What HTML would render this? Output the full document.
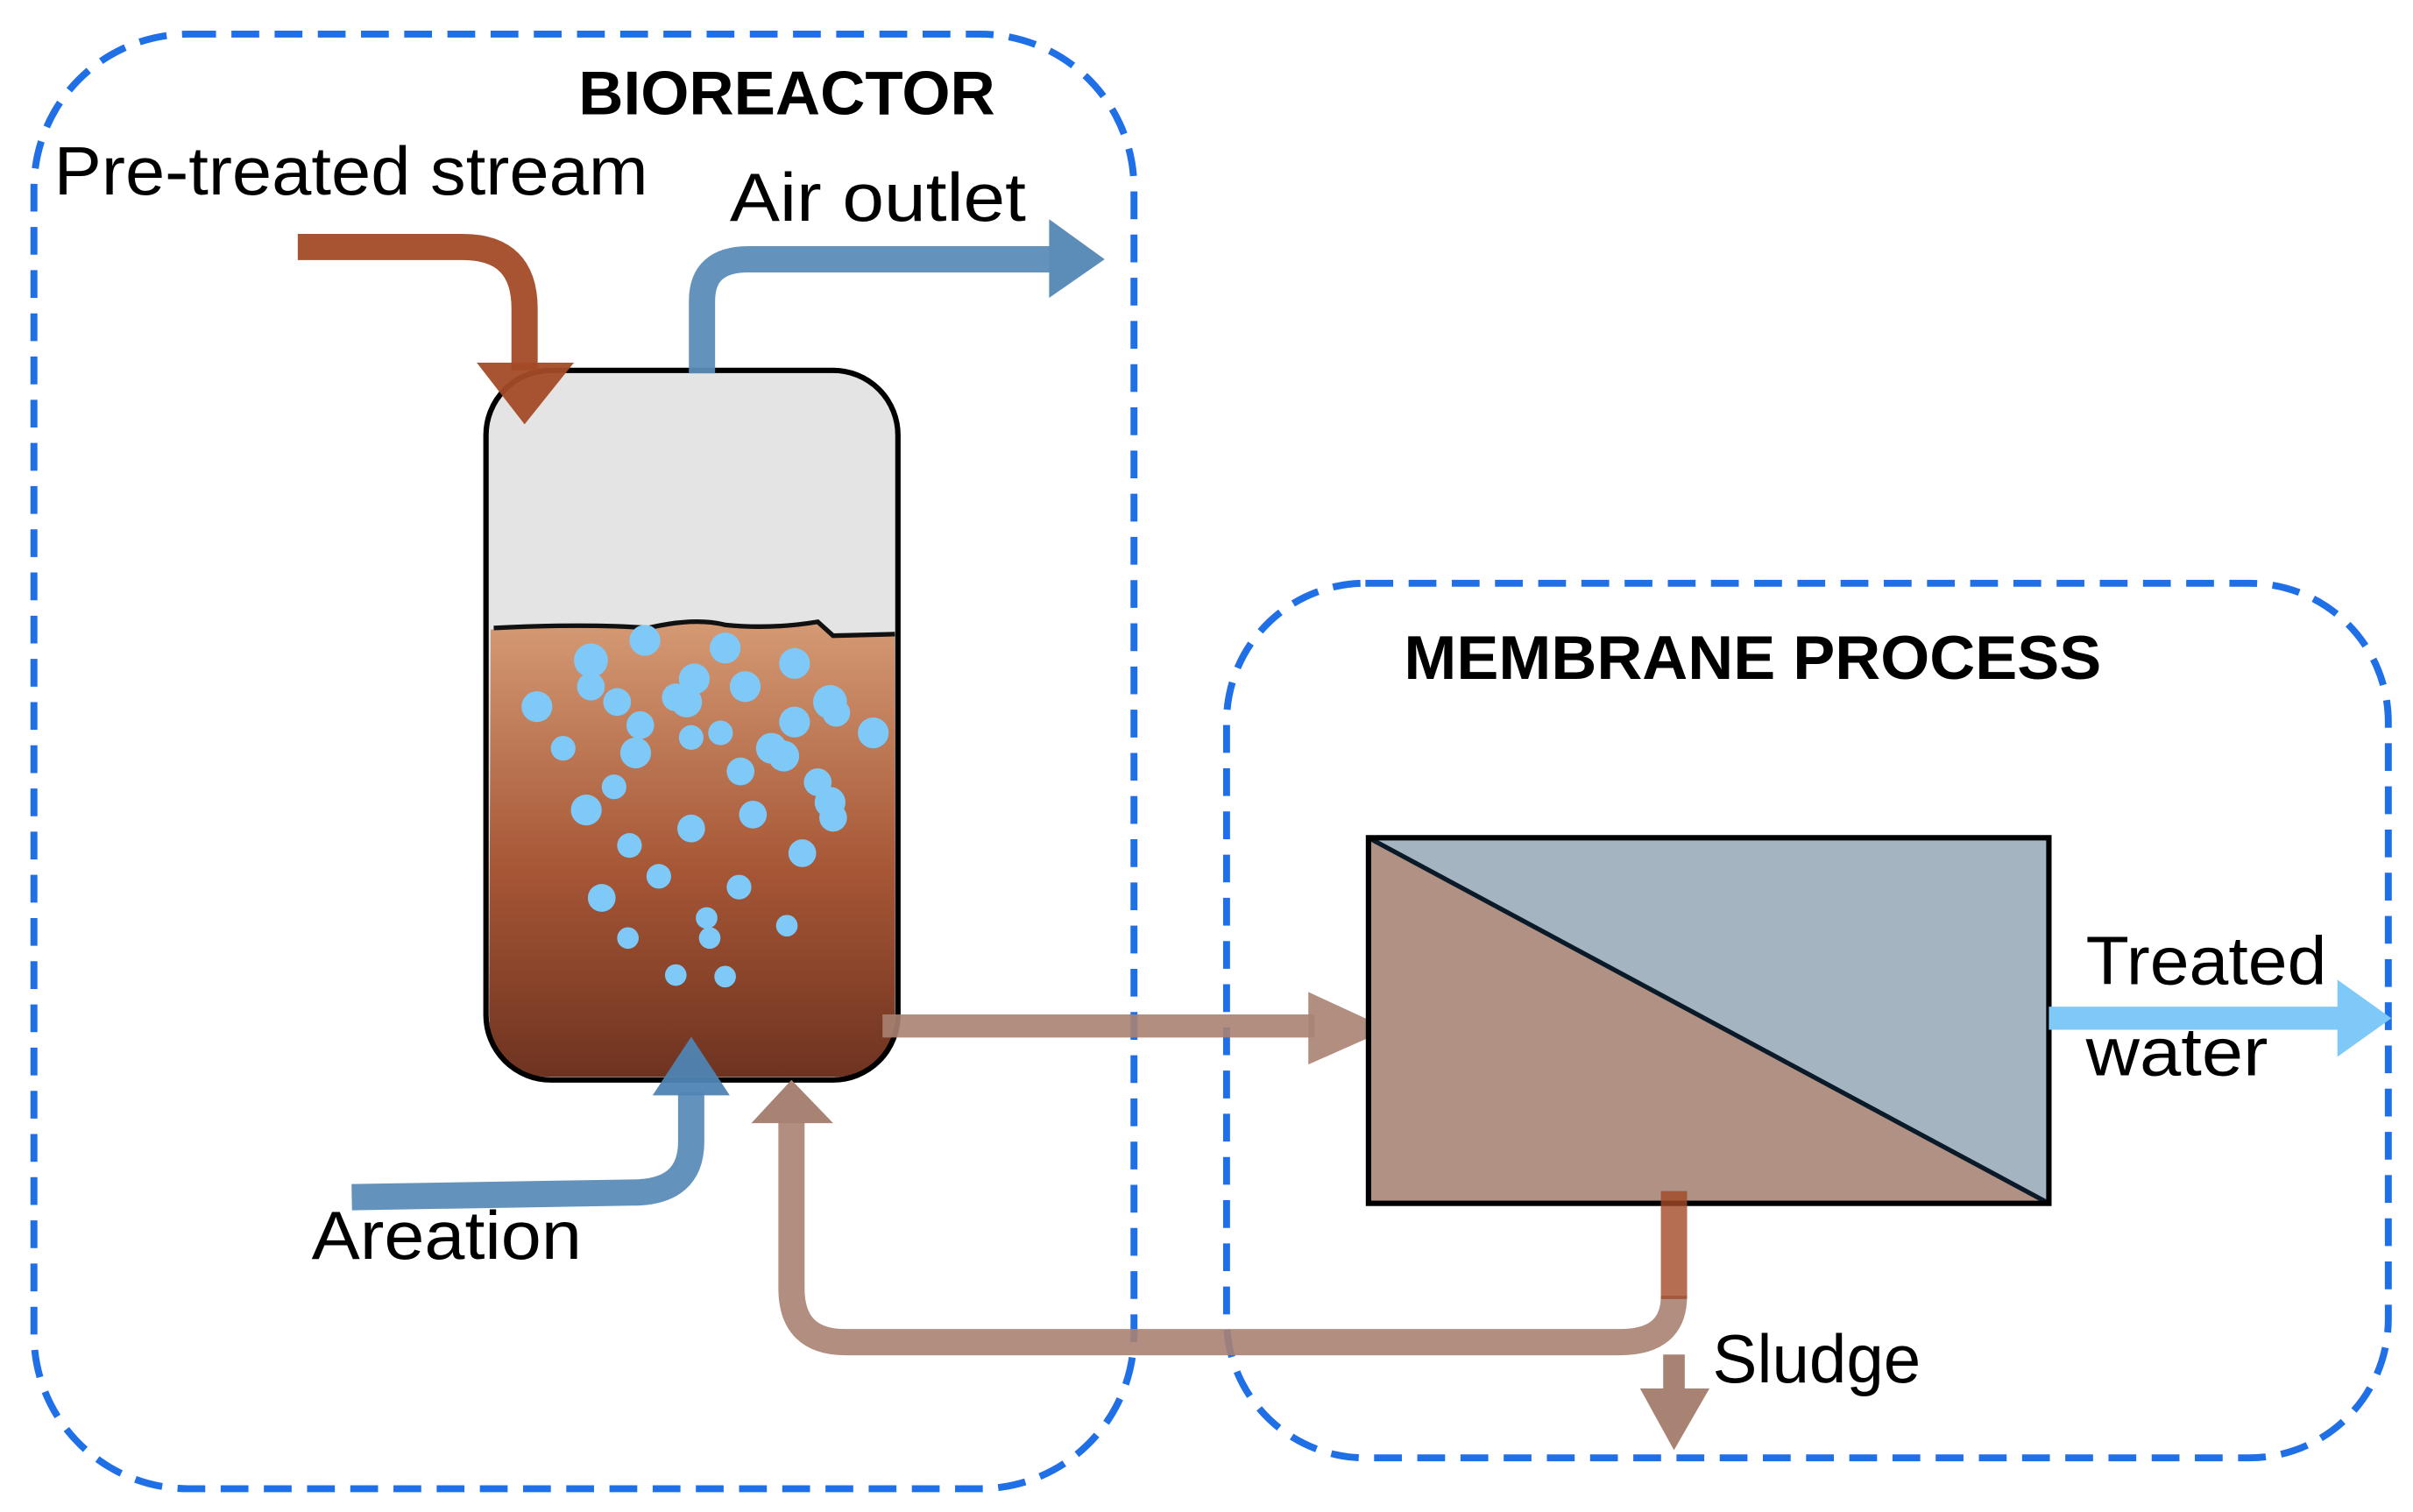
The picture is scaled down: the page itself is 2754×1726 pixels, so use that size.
<!DOCTYPE html>
<html><head><meta charset="utf-8"><style>html,body{margin:0;padding:0;background:#fff}svg{display:block}</style></head>
<body>
<svg width="2754" height="1726" viewBox="0 0 1564 980" xmlns="http://www.w3.org/2000/svg" font-family="'Liberation Sans', sans-serif">
<defs>
<linearGradient id="liq" x1="0" y1="0" x2="0" y2="1">
<stop offset="0" stop-color="#d49a74"/><stop offset="0.55" stop-color="#a65635"/><stop offset="1" stop-color="#6e3320"/>
</linearGradient>
</defs>
<rect width="1564" height="980" fill="#fff"/>
<rect x="22" y="22" width="713" height="943" rx="100" fill="none" stroke="#1f6fe6" stroke-width="4.5" stroke-dasharray="18 10"/>
<rect x="795" y="378" width="753" height="567" rx="90" fill="none" stroke="#1f6fe6" stroke-width="4.5" stroke-dasharray="18 10"/>
<rect x="315" y="240" width="267" height="460" rx="42" fill="#e4e4e4"/>
<path d="M318,408 Q380,404 420,407 Q450,400 470,405 Q500,408 530,403 L540,412 L580,411 L580,658 Q580,698 540,698 L357,698 Q317,698 317,658 Z" fill="url(#liq)"/>
<path d="M320,407 Q380,404 420,407 Q450,400 470,405 Q500,408 530,403 L540,412 L580,411" fill="none" stroke="#111" stroke-width="3"/>
<g fill="#7ec9f7">
<circle cx="348" cy="458" r="10"/><circle cx="383" cy="428" r="11"/><circle cx="383" cy="445" r="9"/><circle cx="400" cy="455" r="9"/><circle cx="418" cy="415" r="10"/><circle cx="450" cy="440" r="10"/><circle cx="445" cy="455" r="10"/><circle cx="438" cy="452" r="9"/><circle cx="470" cy="420" r="10"/><circle cx="483" cy="445" r="10"/><circle cx="515" cy="430" r="10"/><circle cx="538" cy="455" r="11"/><circle cx="542" cy="462" r="9"/><circle cx="566" cy="475" r="10"/><circle cx="365" cy="485" r="8"/><circle cx="415" cy="470" r="9"/><circle cx="412" cy="488" r="10"/><circle cx="448" cy="478" r="8"/><circle cx="467" cy="475" r="8"/><circle cx="500" cy="485" r="10"/><circle cx="508" cy="490" r="10"/><circle cx="515" cy="468" r="10"/><circle cx="480" cy="500" r="9"/><circle cx="530" cy="507" r="9"/><circle cx="538" cy="520" r="10"/><circle cx="540" cy="530" r="9"/><circle cx="398" cy="510" r="8"/><circle cx="380" cy="525" r="10"/><circle cx="448" cy="537" r="9"/><circle cx="488" cy="528" r="9"/><circle cx="408" cy="548" r="8"/><circle cx="520" cy="553" r="9"/><circle cx="427" cy="568" r="8"/><circle cx="479" cy="575" r="8"/><circle cx="390" cy="582" r="9"/><circle cx="458" cy="595" r="7"/><circle cx="460" cy="608" r="7"/><circle cx="510" cy="600" r="7"/><circle cx="407" cy="608" r="7"/><circle cx="438" cy="632" r="7"/><circle cx="470" cy="633" r="7"/>
</g>
<rect x="315" y="240" width="267" height="460" rx="42" fill="none" stroke="#000" stroke-width="3.5"/>
<path d="M193,160 L300,160 Q340,160 340,200 L340,240" fill="none" stroke="#a34a27" stroke-width="17" stroke-opacity="0.95"/>
<polygon points="309,235 372,235 340,275" fill="#a34a27" fill-opacity="0.95"/>
<path d="M455,242 L455,195 Q455,168 485,168 L682,168" fill="none" stroke="#5b8db8" stroke-width="17" stroke-opacity="0.95"/>
<polygon points="680,142 716,168 680,193" fill="#5b8db8"/>
<path d="M228,776 L410,773 Q448,773 448,740 L448,708" fill="none" stroke="#5b8db8" stroke-width="17" stroke-opacity="0.95"/>
<polygon points="423,710 473,710 448,672" fill="#4f84b3" fill-opacity="0.95"/>
<path d="M572,665 L852,665" fill="none" stroke="#a88272" stroke-width="15" stroke-opacity="0.9"/>
<polygon points="848,643 900,667 848,690" fill="#a88272" fill-opacity="0.9"/>
<polygon points="887,543 1328,543 1328,780" fill="#a4b4c0"/>
<polygon points="887,543 1328,780 887,780" fill="#b09184"/>
<line x1="887" y1="543" x2="1328" y2="780" stroke="#0a1a28" stroke-width="3"/>
<rect x="887" y="543" width="441" height="237" fill="none" stroke="#000" stroke-width="3.5"/>
<path d="M1085,840 Q1085,870 1050,870 L548,870 Q513,870 513,835 L513,726" fill="none" stroke="#a88272" stroke-width="17" stroke-opacity="0.9"/>
<polygon points="487,728 540,728 513,700" fill="#a88272"/>
<path d="M1085,772 L1085,842" fill="none" stroke="#a34a27" stroke-width="17" stroke-opacity="0.8"/>
<path d="M1085,878 L1085,902" fill="none" stroke="#a88272" stroke-width="14"/>
<polygon points="1063,900 1108,900 1085,940" fill="#a88272"/>
<path d="M1328,660 L1518,660" fill="none" stroke="#7ec9f7" stroke-width="15"/>
<polygon points="1515,635 1550,660 1515,685" fill="#7ec9f7"/>
<g fill="#000">
<text x="375" y="74" font-size="40" font-weight="bold" textLength="270" lengthAdjust="spacingAndGlyphs">BIOREACTOR</text>
<text x="35" y="126" font-size="44" textLength="385" lengthAdjust="spacingAndGlyphs">Pre-treated stream</text>
<text x="473" y="143" font-size="44" textLength="192" lengthAdjust="spacingAndGlyphs">Air outlet</text>
<text x="202" y="816" font-size="44" textLength="175" lengthAdjust="spacingAndGlyphs">Areation</text>
<text x="910" y="440" font-size="40" font-weight="bold" textLength="452" lengthAdjust="spacingAndGlyphs">MEMBRANE PROCESS</text>
<text x="1352" y="638" font-size="44" textLength="156" lengthAdjust="spacingAndGlyphs">Treated</text>
<text x="1352" y="697" font-size="44" textLength="118" lengthAdjust="spacingAndGlyphs">water</text>
<text x="1110" y="896" font-size="44" textLength="135" lengthAdjust="spacingAndGlyphs">Sludge</text>
</g>
</svg>
</body></html>
